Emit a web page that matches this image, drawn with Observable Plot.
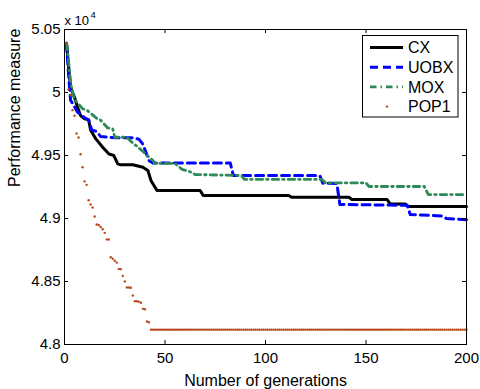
<!DOCTYPE html>
<html><head><meta charset="utf-8">
<script src="https://cdn.jsdelivr.net/npm/d3@7"></script>
<script src="https://cdn.jsdelivr.net/npm/@observablehq/plot@0.6"></script>
<style>html,body{margin:0;padding:0;background:#fff}svg{display:block}</style>
</head><body><div id="chart"></div>
<script>
// ---- data (performance measure, raw units; axis shown x 10^4) ----
const seriesNames = ["CX", "UOBX", "MOX", "POP1"];

const cxGen = [1,3,5,6.5,8,10,12,13,15.6,19,22,24.5,26.5,28,34,39,41.5,43,46,67.5,69,111.5,113,141.5,143,160.5,162,169.5,171,200];
const cxVal = [50390,50042,49960,49883,49817,49791,49783,49700,49632,49566,49513,49500,49434,49426,49426,49407,49381,49302,49222,49222,49183,49183,49169,49169,49151,49151,49116,49116,49095,49095];

const uobxGen = [1,2,3,6.5,10,12,13.5,16,18,26,34,37,39,42,44,82.5,84,127,128.5,135.5,137,170.5,172,188,190,200];
const uobxVal = [50390,50150,49940,49844,49800,49783,49704,49690,49650,49640,49640,49630,49590,49460,49440,49440,49341,49341,49280,49278,49111,49105,49032,49020,49000,48990];

const moxGen = [1,1.5,3.1,4.8,9,11,16.4,18,21.4,24,25,31,34.5,36,44,45,55,58.5,62,65,88,89.5,128,130,150,151.5,179,181,200];
const moxVal = [50390,50333,50069,49950,49870,49862,49790,49780,49720,49710,49645,49645,49590,49575,49460,49437,49437,49390,49375,49349,49341,49310,49310,49282,49282,49254,49254,49190,49190];

// POP1: one dot per generation, generations 1..200
const pop1Val = [
50390,50025,49980,49860,49815,49675,49643,49510,49407,49295,
49267,49145,49111,49087,49016,48952,48948,48932,48915,48886,
48834,48833,48693,48680,48665,48650,48600,48598,48545,48500,
48452,48452,48450,48389,48344,48343,48340,48331,48283,48280,
48183,48177,
48118,48118,48118,48118,48118,48118,48118,48118,48118,48118,
48118,48118,48118,48118,48118,48118,48118,48118,48118,48118,
48118,48118,48118,48118,48118,48118,48118,48118,48118,48118,
48118,48118,48118,48118,48118,48118,48118,48118,48118,48118,
48118,48118,48118,48118,48118,48118,48118,48118,48118,48118,
48118,48118,48118,48118,48118,48118,48118,48118,48118,48118,
48118,48118,48118,48118,48118,48118,48118,48118,48118,48118,
48118,48118,48118,48118,48118,48118,48118,48118,48118,48118,
48118,48118,48118,48118,48118,48118,48118,48118,48118,48118,
48118,48118,48118,48118,48118,48118,48118,48118,48118,48118,
48118,48118,48118,48118,48118,48118,48118,48118,48118,48118,
48118,48118,48118,48118,48118,48118,48118,48118,48118,48118,
48118,48118,48118,48118,48118,48118,48118,48118,48118,48118,
48118,48118,48118,48118,48118,48118,48118,48118,48118,48118,
48118,48118,48118,48118,48118,48118,48118,48118,48118,48118,
48118,48118,48118,48118,48118,48118,48118,48118
];

const xTicks = [0, 50, 100, 150, 200];
const xTickLabels = ["0", "50", "100", "150", "200"];
const yTicks = [48000, 48500, 49000, 49500, 50000, 50500];
const yTickLabels = ["4.8", "4.85", "4.9", "4.95", "5", "5.05"];
const xLabel = "Number of generations";
const yLabel = "Performance measure";
const expBase = "x 10";
const expPow = "4";

// ---- styles ----
const colors = {CX: "#000000", UOBX: "#0000ff", MOX: "#2e8b57", POP1: "#b8481c"};
const widths = {CX: 3, UOBX: 3, MOX: 2.8};
const dashes = {CX: null, UOBX: "8,5", MOX: "6.5,4,1.5,4"};
const font = "'Liberation Sans', Arial, Helvetica, sans-serif";

const W = 480, H = 389, mL = 64, mR = 14, mT = 29, mB = 45;
const innerW = W - mL - mR, innerH = H - mT - mB, T = 4;

const rows = (gen, val) => gen.map((g, i) => ({gen: g, val: val[i]}));
const cx = rows(cxGen, cxVal);
const uobx = rows(uobxGen, uobxVal);
const mox = rows(moxGen, moxVal);
const pop1 = pop1Val.map((v, i) => ({gen: i + 1, val: v}));

const plot = Plot.plot({
  width: W, height: H,
  marginLeft: mL, marginRight: mR, marginTop: mT, marginBottom: mB,
  style: {fontFamily: font, fontSize: "15px", background: "#fff", color: "#000", overflow: "visible"},
  x: {domain: [0, 200], axis: null},
  y: {domain: [48000, 50500], axis: null},
  marks: [
    Plot.line(cx, {x: "gen", y: "val", stroke: colors.CX, strokeWidth: widths.CX, strokeLinejoin: "round"}),
    Plot.line(uobx, {x: "gen", y: "val", stroke: colors.UOBX, strokeWidth: widths.UOBX, strokeDasharray: dashes.UOBX}),
    Plot.line(mox, {x: "gen", y: "val", stroke: colors.MOX, strokeWidth: widths.MOX, strokeDasharray: dashes.MOX}),
    Plot.dot(pop1, {x: "gen", y: "val", r: 1.2, fill: colors.POP1, stroke: "none"}),
    Plot.tickX(xTicks, {x: d => d, insetTop: innerH - T, stroke: "#000"}),
    Plot.tickX(xTicks, {x: d => d, insetBottom: innerH - T, stroke: "#000"}),
    Plot.tickY(yTicks, {y: d => d, insetRight: innerW - T, stroke: "#000"}),
    Plot.tickY(yTicks, {y: d => d, insetLeft: innerW - T, stroke: "#000"}),
    Plot.frame({stroke: "#000", strokeWidth: 1}),
    Plot.text(xTicks, {x: d => d, text: (d, i) => xTickLabels[i], frameAnchor: "bottom", lineAnchor: "bottom", dy: 18, fontSize: 15, fill: "#000"}),
    Plot.text(yTicks, {y: d => d, text: (d, i) => yTickLabels[i], frameAnchor: "left", textAnchor: "end", dx: -4, fontSize: 15, fill: "#000"}),
    Plot.text([xLabel], {frameAnchor: "bottom", lineAnchor: "bottom", dy: 41, fontSize: 16, fill: "#000"}),
    Plot.text([yLabel], {frameAnchor: "left", rotate: -90, dx: -50, fontSize: 16, fill: "#000"}),
    Plot.text([expBase], {frameAnchor: "top-left", textAnchor: "start", lineAnchor: "bottom", dy: -5, fontSize: 13, fill: "#000"}),
    Plot.text([expPow], {frameAnchor: "top-left", textAnchor: "start", lineAnchor: "bottom", dx: 26, dy: -12, fontSize: 9.5, fill: "#000"})
  ]
});

// ---- legend (inside the axes, top-right) ----
const svg = d3.select(plot);
const lg = svg.append("g").attr("font-family", font).attr("font-size", 16).attr("text-anchor", "start");
lg.append("rect").attr("x", 362.5).attr("y", 35.5).attr("width", 95.5).attr("height", 81.5)
  .attr("fill", "#fff").attr("stroke", "#000").attr("stroke-width", 1);
seriesNames.forEach((name, i) => {
  const y = 47.5 + i * 19.7;
  if (name === "POP1") {
    lg.append("circle").attr("cx", 387).attr("cy", y).attr("r", 1.2).attr("fill", colors.POP1);
  } else {
    const ln = lg.append("line").attr("x1", 370).attr("x2", 403).attr("y1", y).attr("y2", y)
      .attr("stroke", colors[name]).attr("stroke-width", widths[name]);
    if (dashes[name]) ln.attr("stroke-dasharray", dashes[name]);
  }
  lg.append("text").attr("x", 408).attr("y", y).attr("dy", "0.36em").attr("text-anchor", "start").attr("fill", "#000").text(name);
});

document.getElementById("chart").appendChild(plot);
</script>
</body></html>
